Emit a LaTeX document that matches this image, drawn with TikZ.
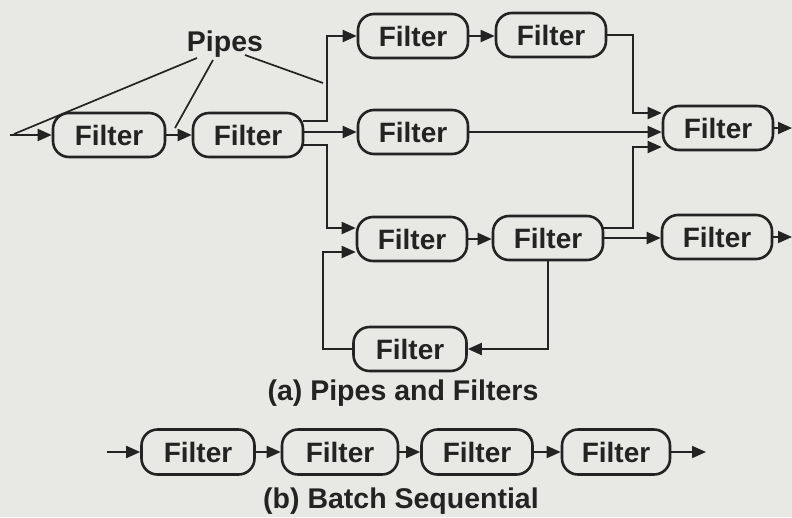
\documentclass[tikz,border=0pt]{standalone}
\usepackage{fontspec}
\setmainfont{Liberation Sans}
\usetikzlibrary{arrows.meta,calc}
\definecolor{bg}{RGB}{232,232,229}
\definecolor{ink}{RGB}{35,35,35}
\begin{document}
\begin{tikzpicture}[x=1pt,y=-1pt,
  filterbox/.style={draw=ink,line width=2.6pt,rounded corners=16pt,minimum width=110pt,minimum height=44pt,inner sep=0pt,font=\fontsize{28}{30}\selectfont\bfseries,text=ink},
  pipe/.style={draw=ink,line width=1.9pt,-{Triangle[length=14pt,width=12pt]}},
  pointer/.style={draw=ink,line width=1.7pt},
  lbl/.style={font=\fontsize{28.5}{31}\selectfont\bfseries,text=ink}]
\fill[bg] (0,0) rectangle (792,517);
\useasboundingbox (0,0) rectangle (792,517);
% (a) pipes and filters
\node[filterbox,minimum width=112pt] (A) at (109,135) {Filter};
\node[filterbox] (B) at (248,135) {Filter};
\node[filterbox] (C) at (413,36) {Filter};
\node[filterbox] (D) at (551,35) {Filter};
\node[filterbox] (E) at (413,132) {Filter};
\node[filterbox] (F) at (718,128) {Filter};
\node[filterbox] (G) at (412,239) {Filter};
\node[filterbox] (H) at (548,238) {Filter};
\node[filterbox] (I) at (717,237) {Filter};
\node[filterbox,minimum width=113pt] (J) at (410,349) {Filter};
\node[lbl] (pipes) at (225,44) {Pipes};
\node[lbl] (capa) at (403,393) {(a) Pipes and Filters};
% (b) batch sequential
\node[filterbox,minimum width=113pt,minimum height=45pt] (K1) at (198,452) {Filter};
\node[filterbox,minimum width=116pt,minimum height=45pt] (K2) at (340,452) {Filter};
\node[filterbox,minimum width=111pt,minimum height=45pt] (K3) at (477,452) {Filter};
\node[filterbox,minimum width=108pt,minimum height=45pt] (K4) at (616,452) {Filter};
\node[lbl] (capb) at (401,501) {(b) Batch Sequential};
% free ends
\coordinate (in) at (10,135);
\coordinate (outF) at (792,128);
\coordinate (outI) at (792,237);
\coordinate (inK) at (107,452);
\coordinate (outK) at (706,452);
\coordinate (p1) at (14,134);
\coordinate (p2) at (175,128);
\coordinate (p3) at (323,83);
% pointers from "Pipes"
\draw[pointer] ($(pipes)+(-28,14)$) -- (p1);
\draw[pointer] ($(pipes)+(-12,16)$) -- (p2);
\draw[pointer] ($(pipes)+(20,11)$) -- (p3);
% pipes
\draw[pipe] (in) -- (A.west);
\draw[pipe] (A) -- (B);
\draw[pipe] ($(B.east)+(-1,-14)$) -| ($(C.west)+(-30,0)$) -- (C.west);
\draw[pipe] (B.east |- E.west) -- (E.west);
\draw[pipe] ($(B.east)+(-1,10)$) -| ($(G.west)+(-29,-11)$) -- ($(G.west)+(0,-11)$);
\draw[pipe] (C.east) -- (C.east -| D.west);
\draw[pipe] (D.east) -| ($(F.west)+(-29,-15)$) -- ($(F.west)+(0,-15)$);
\draw[pipe] (E.east) -- (E.east -| F.west);
\draw[pipe] ($(H.east)+(-1,-10)$) -| ($(F.west)+(-29,19)$) -- ($(F.west)+(0,19)$);
\draw[pipe] (G.east) -- (G.east -| H.west);
\draw[pipe] (H.east) -- (H.east -| I.west);
\draw[pipe] (F.east) -- (outF);
\draw[pipe] (I.east) -- (outI);
\draw[pipe] (H.south) |- (J.east);
\draw[pipe] (J.west) -| ($(G.west)+(-33,13)$) -- ($(G.west)+(0,13)$);
% batch
\draw[pipe] (inK) -- (K1);
\draw[pipe] (K1) -- (K2);
\draw[pipe] (K2) -- (K3);
\draw[pipe] (K3) -- (K4);
\draw[pipe] (K4) -- (outK);
\end{tikzpicture}
\end{document}
